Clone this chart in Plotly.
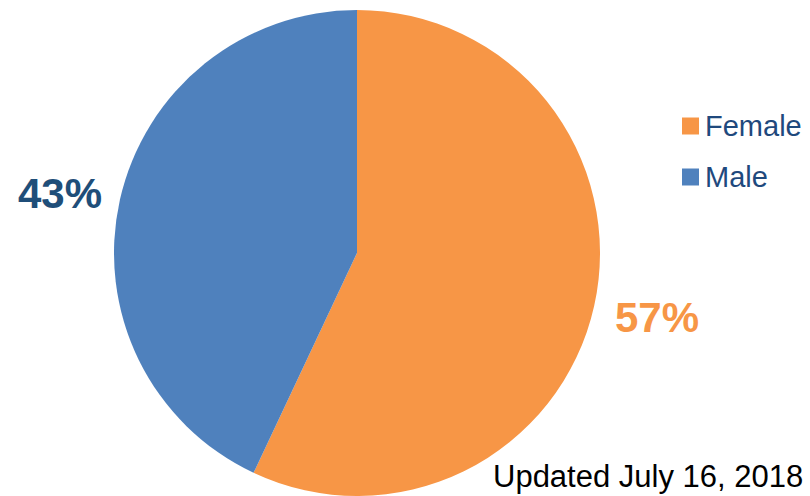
import plotly.graph_objects as go

labels = ["Female", "Male"]
values = [57, 43]
colors = ["#F79646", "#4F81BD"]
label_colors = ["#F79646", "#1F4E79"]
label_text = ["57%", "43%"]
note = "Updated July 16, 2018"

W, H = 810, 496
FONT = "Liberation Sans, Arial"
fig = go.Figure()
fig.add_trace(go.Pie(
    labels=labels, values=values, sort=False, direction="clockwise", rotation=0,
    marker=dict(colors=colors, line=dict(width=0)),
    textinfo="none", hoverinfo="label+percent",
    domain=dict(x=[114 / W, 600 / W], y=[0, 486 / H]),
    showlegend=False,
))

# percentage labels
label_pos = [(657, 317), (60, 193)]
for txt, col, (px, py) in zip(label_text, label_colors, label_pos):
    fig.add_annotation(x=px / W, y=1 - py / H, xref="paper", yref="paper",
                       text="<b>" + txt + "</b>", showarrow=False,
                       font=dict(family=FONT, size=42, color=col),
                       xanchor="center", yanchor="middle")

# legend (manual, to match large square swatches)
legend_rows = [126, 177]
for lab, col, yc in zip(labels, colors, legend_rows):
    fig.add_shape(type="rect", xref="paper", yref="paper",
                  x0=682 / W, x1=699 / W, y0=1 - (yc - 8.5) / H, y1=1 - (yc + 8.5) / H,
                  fillcolor=col, line=dict(width=0))
    fig.add_annotation(x=703 / W, y=1 - yc / H, xref="paper", yref="paper",
                       text=lab, showarrow=False,
                       font=dict(family=FONT, size=29, color="#1F497D"),
                       xanchor="left", yanchor="middle")

fig.add_annotation(x=805 / W, y=1 - 476 / H, xref="paper", yref="paper",
                   text=note, showarrow=False,
                   font=dict(family=FONT, size=31, color="#000000"),
                   xanchor="right", yanchor="middle")

fig.update_layout(
    width=W, height=H,
    margin=dict(l=0, r=0, t=0, b=0),
    paper_bgcolor="white", plot_bgcolor="white",
    font=dict(family=FONT),
    showlegend=False,
)
fig.write_html("out.html", config={"displayModeBar": False},
               post_script="document.body.style.margin='0';document.body.style.overflow='hidden';")
